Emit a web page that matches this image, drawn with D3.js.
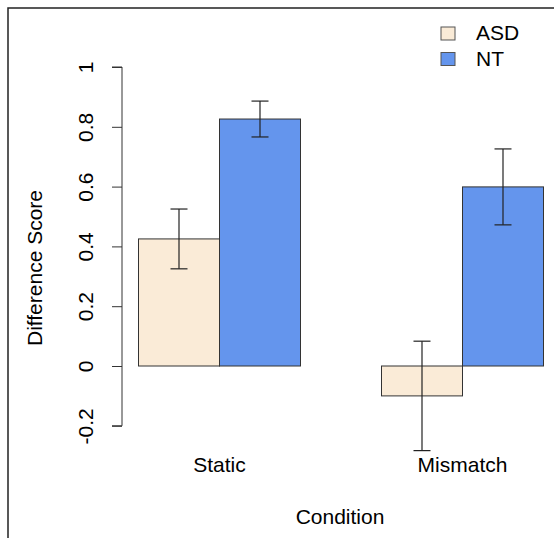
<!DOCTYPE html>
<html><head><meta charset="utf-8">
<script src="https://cdn.jsdelivr.net/npm/d3@7"></script>
<style>body{margin:0;background:#fff}svg{display:block}text{font-family:"Liberation Sans",Arial,sans-serif;fill:#000}</style>
</head><body>
<svg id="c" width="554" height="538"></svg>
<script>
const conditions = ["Static", "Mismatch"];
const groups = ["ASD", "NT"];
const asdValues = [0.425, -0.10];
const ntValues = [0.826, 0.599];
const asdErr = [0.10, 0.183];
const ntErr = [0.06, 0.127];
const yTicks = [-0.2, 0, 0.2, 0.4, 0.6, 0.8, 1];
const yTickLabels = ["-0.2", "0", "0.2", "0.4", "0.6", "0.8", "1"];
const colors = {ASD: "#FAEBD7", NT: "#6495ED"};
const FS = 21;

const svg = d3.select("#c");
// frame
svg.append("path").attr("d", "M8,538 V8 H554").attr("fill","none").attr("stroke","#222").attr("stroke-width",1.5);

const y = d3.scaleLinear().domain([0, 1]).range([366, 67]);
const x0 = d3.scaleBand().domain(conditions).range([138.5, 543.5]).paddingInner(1/3).paddingOuter(0);
const x1 = d3.scaleBand().domain(groups).range([0, x0.bandwidth()]).padding(0);

const data = [];
conditions.forEach((c, i) => {
  data.push({c, g: "ASD", v: asdValues[i], e: asdErr[i]});
  data.push({c, g: "NT", v: ntValues[i], e: ntErr[i]});
});

svg.selectAll("rect.bar").data(data).enter().append("rect")
  .attr("class","bar")
  .attr("x", d => x0(d.c) + x1(d.g))
  .attr("width", x1.bandwidth())
  .attr("y", d => y(Math.max(0, d.v)))
  .attr("height", d => Math.abs(y(d.v) - y(0)))
  .attr("fill", d => colors[d.g])
  .attr("stroke", "#333").attr("stroke-width", 1);

// error bars
const eb = svg.selectAll("g.eb").data(data).enter().append("g").attr("stroke","#222").attr("stroke-width",1.2);
eb.append("line").attr("x1", d => x0(d.c)+x1(d.g)+x1.bandwidth()/2).attr("x2", d => x0(d.c)+x1(d.g)+x1.bandwidth()/2)
  .attr("y1", d => y(d.v+d.e)).attr("y2", d => y(d.v-d.e));
[1,-1].forEach(s => {
  eb.append("line").attr("x1", d => x0(d.c)+x1(d.g)+x1.bandwidth()/2-8.5).attr("x2", d => x0(d.c)+x1(d.g)+x1.bandwidth()/2+8.5)
    .attr("y1", d => y(d.v+s*d.e)).attr("y2", d => y(d.v+s*d.e));
});

// y axis
const ax = svg.append("g").attr("transform","translate(122,0)")
  .call(d3.axisLeft(y).tickValues(yTicks).tickFormat((d,i)=>yTickLabels[i]).tickSize(10).tickPadding(0));
ax.select(".domain").attr("stroke","#333").attr("d", `M-10,${y(1)}H0V${y(-0.2)}H-10`);
ax.selectAll(".tick line").attr("stroke","#333");
ax.selectAll(".tick text").attr("font-size",FS).attr("fill","#000")
  .attr("transform","rotate(-90)").attr("x", 0).attr("dy", 0).attr("y", -29)
  .attr("text-anchor","middle")
  .attr("style","font-family:'Liberation Sans',Arial,sans-serif");

// x labels
svg.selectAll("text.xl").data(conditions).enter().append("text")
  .attr("x", d => x0(d) + x0.bandwidth()/2).attr("y", 472)
  .attr("text-anchor","middle").attr("font-size",FS).text(d => d);

svg.append("text").attr("x", 340).attr("y", 524).attr("text-anchor","middle").attr("font-size",FS).text("Condition");
svg.append("text").attr("transform","translate(42,268) rotate(-90)").attr("text-anchor","middle").attr("font-size",FS).text("Difference Score");

// legend
const lg = svg.selectAll("g.lg").data(groups).enter().append("g").attr("transform",(d,i)=>`translate(441,${27+i*25.5})`);
lg.append("rect").attr("width",14).attr("height",13).attr("fill",d=>colors[d]).attr("stroke","#555").attr("stroke-width",1);
lg.append("text").attr("x",35).attr("y",13).attr("font-size",FS).text(d=>d);
</script>
</body></html>
